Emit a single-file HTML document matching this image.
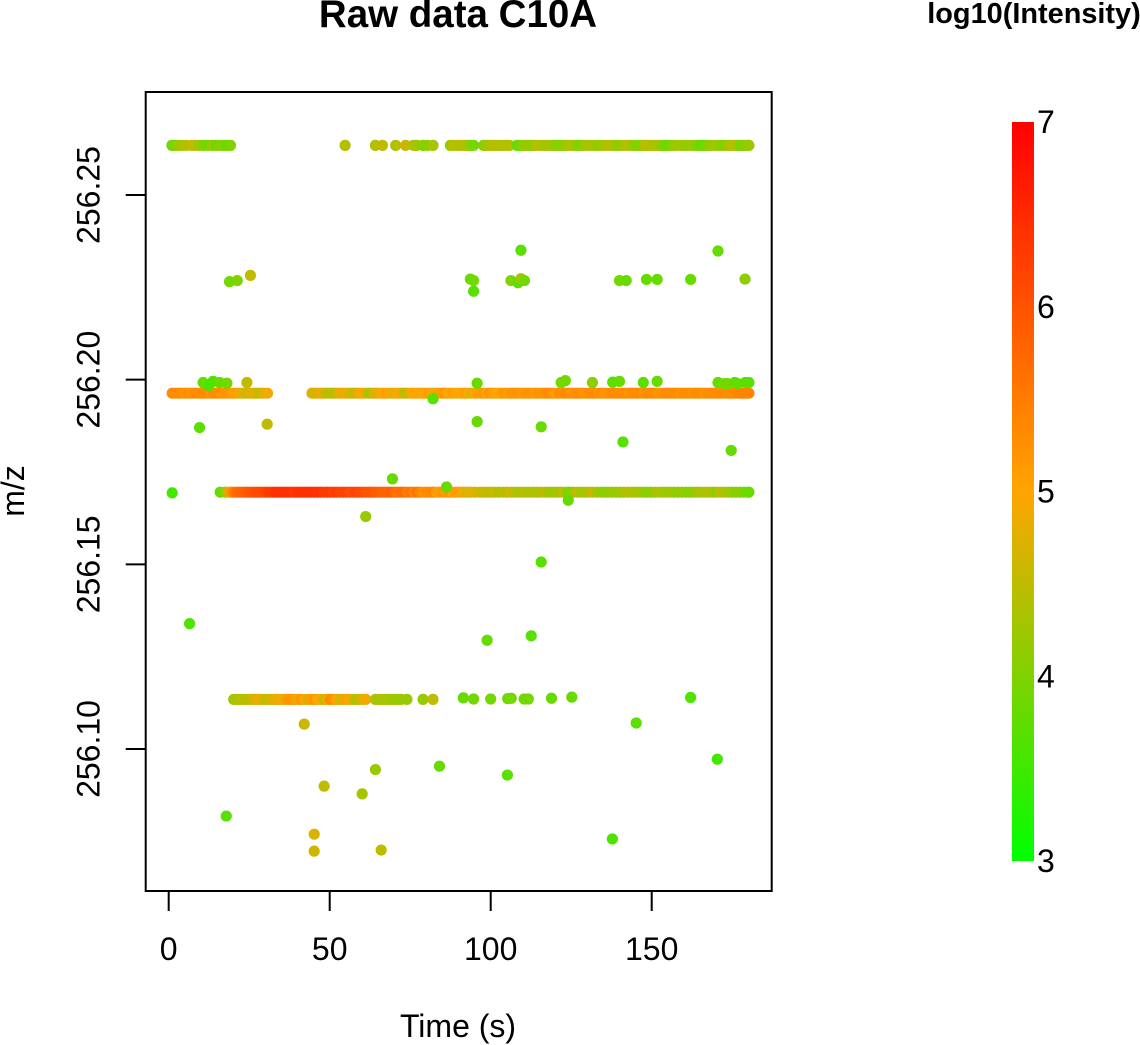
<!DOCTYPE html>
<html lang="en">
<head>
<meta charset="utf-8">
<title>Raw data C10A</title>
<style>
html,body{margin:0;padding:0;background:#fff}
svg{display:block;font-family:"Liberation Sans",sans-serif}
</style>
</head>
<body>
<svg id="chart" xmlns="http://www.w3.org/2000/svg" width="1140" height="1045" viewBox="0 0 1140 1045">
<defs>
<linearGradient id="ramp" x1="0" y1="1" x2="0" y2="0">
<stop offset="0" stop-color="#00ff00"/>
<stop offset="0.5" stop-color="#ffa500"/>
<stop offset="1" stop-color="#ff0000"/>
</linearGradient>
</defs>
<rect width="1140" height="1045" fill="#fff"/>
<g id="points" transform="translate(0.6,0.6)"></g>
<rect x="145.7" y="92" width="626" height="799" fill="none" stroke="#000" stroke-width="2"/>
<g id="xaxis"></g>
<g id="yaxis"></g>
<text x="458" y="27" font-size="38.5" font-weight="bold" text-anchor="middle">Raw data C10A</text>
<text x="458" y="1037" font-size="32" text-anchor="middle">Time (s)</text>
<text transform="translate(24,491) rotate(-90)" font-size="32" text-anchor="middle">m/z</text>
<text x="1034" y="23" font-size="28.9" font-weight="bold" text-anchor="middle">log10(Intensity)</text>
<rect x="1012" y="122" width="22" height="739" fill="url(#ramp)"/>
<g id="cbticks"></g>
</svg>
<script>
const xTickValues = [0, 50, 100, 150];
const yTickValues = [256.10, 256.15, 256.20, 256.25];
const colorbarValues = [3, 4, 5, 6, 7];

const topBandMz = 256.2636;
const topBandTimes = [
  0.8,1.9,2.9,3.9,5.3,7,8,9.4,10.6,12,
  13.3,14.6,15.6,16.8,18,19,54.6,64,66.2,70.3,
  73.4,75.9,76.8,78.8,80.2,81.9,
  87.3,88.2,89.1,90.1,91,91.9,92.8,93.6,94.5,97.6,
  98.5,99.4,100.3,101.2,102.1,103,103.9,104.8,105.6,108,
  108.9,109.8,110.7,111.6,112.6,113.5,114.4,115.4,116.4,117.3,
  118.3,119.2,120.2,121.1,122,122.9,123.8,124.7,125.6,126.6,
  127.6,128.5,129.4,130.3,131.3,132.3,133.3,134.2,135.2,136.2,
  137.1,138.1,139,140.1,141.1,142.1,143.1,144.2,145.2,146.1,
  147,147.8,148.6,149.4,150.3,151.2,152.1,153,153.9,154.7,
  155.6,156.4,157.5,158.7,159.7,160.8,161.9,162.9,163.7,164.8,
  165.7,166.5,167.5,168.5,169.6,170.6,171.6,172.7,173.7,174.6,
  175.5,176.4,177.3,178.1,178.9,179.5,180
];
const topBandLogs = [
  3.9,3.9,4.2,4.3,4.4,4.5,4.5,4.2,4.0,3.9,
  4.2,3.8,4.1,4.0,3.8,4.0,4.4,4.4,4.5,4.4,
  4.6,4.3,4.3,4.0,4.1,4.3,
  4.1,4.4,4.5,4.3,4.5,4.4,4.3,4.1,3.9,4.0,
  4.2,4.3,4.5,4.4,4.4,4.4,4.4,4.4,4.4,3.8,
  3.9,4.0,4.2,4.2,4.1,4.2,4.5,4.4,4.3,4.2,
  4.4,4.2,4.1,4.0,4.1,4.1,4.2,4.4,4.4,4.1,
  3.9,4.1,4.3,4.3,4.3,4.3,4.0,4.2,4.3,4.4,
  4.4,4.4,4.2,4.1,4.2,4.4,4.4,4.1,4.0,4.0,
  4.1,4.4,4.5,4.4,4.3,4.4,4.3,4.1,4.0,3.8,
  3.9,4.1,4.2,4.3,4.2,4.1,4.2,4.2,4.1,3.8,
  3.8,3.9,4.1,4.2,4.2,4.2,4.1,4.0,4.2,4.4,
  4.5,4.3,3.9,4.0,4.0,4.1,4.2
];

const mainBandMz = 256.1965;
const mainBandTimes = [
  0.9,1.9,2.9,3.9,4.9,5.9,6.9,7.9,8.9,9.9,
  10.9,11.9,12.9,13.9,14.9,15.9,16.9,17.9,18.9,19.9,
  20.9,21.9,22.9,23.9,24.9,25.8,26.7,27.2,28.2,29.3,
  30.5,44.3,45.2,46.1,47,47.9,48.8,49.8,50.6,51.5,
  52.5,53.4,54.4,55.3,56.2,57.1,58.1,59,60,60.9,
  61.9,62.8,63.7,64.7,65.6,66.6,67.5,68.4,69.4,70.3,
  71.3,72.2,73.1,74.1,75,76,76.9,77.8,78.8,79.7,
  80.7,81.6,82.5,83.5,84.4,85.4,86.3,87.2,88.2,89.1,
  90.1,91,92,92.9,93.8,94.8,95.7,96.7,97.6,98.5,
  99.5,100.4,101.4,102.3,103.2,104.2,105.1,106.1,107,108,
  108.9,109.8,110.8,111.7,112.7,113.6,114.5,115.5,116.4,117.4,
  118.3,119.2,120.2,121.1,122.1,123,124,124.9,125.8,126.8,
  127.7,128.7,129.6,130.5,131.5,132.4,133.4,134.3,135.3,136.2,
  137.1,138.1,139,140,140.9,141.8,142.8,143.7,144.7,145.6,
  146.6,147.5,148.4,149.4,150.3,151.3,152.2,153.1,154.1,155,
  156,156.9,157.9,158.8,159.7,160.7,161.6,162.6,163.5,164.4,
  165.4,166.3,167.3,168.2,169.2,170.1,171,172,172.9,173.9,
  174.8,175.7,176.7,177.6,178.6,179.5,180
];
const mainBandLogs = [
  5.3,5.3,5.3,5.3,5.2,5.3,5.2,5.3,5.3,5.3,
  5.3,5.3,5.2,5.3,5.3,5.2,5.2,5.2,5.2,5.1,
  5.1,4.9,4.8,4.6,4.7,4.8,4.8,4.7,4.5,4.8,
  4.9,4.8,4.6,4.7,4.9,4.8,4.5,4.5,4.5,4.4,
  4.7,4.9,4.8,4.9,4.7,4.5,4.6,4.9,5.0,4.9,
  4.4,4.3,4.8,4.7,4.9,5.0,5.1,5.0,4.7,4.9,
  5.0,4.8,4.5,4.5,4.9,5.0,5.0,4.9,5.0,5.0,
  5.1,5.0,4.8,5.1,5.1,5.2,5.0,5.0,5.1,4.9,
  5.0,5.0,5.1,5.0,4.7,5.0,5.1,5.1,5.2,5.0,
  5.2,5.1,5.0,5.0,5.1,5.2,5.1,5.2,5.2,5.2,
  5.2,5.1,5.2,5.2,5.2,5.1,5.2,5.2,5.2,5.3,
  5.3,5.2,5.1,5.3,5.2,5.3,5.3,5.2,5.2,5.3,
  5.3,5.2,5.2,5.3,5.3,5.3,5.2,5.3,5.2,5.2,
  5.3,5.3,5.3,5.3,5.3,5.3,5.2,5.3,5.3,5.3,
  5.3,5.2,5.3,5.3,5.3,5.3,5.2,5.2,5.3,5.3,
  5.3,5.3,5.3,5.2,5.3,5.3,5.3,5.2,5.3,5.3,
  5.3,5.2,5.3,5.3,5.3,5.3,5.3,5.3,5.3,5.3,
  5.3,5.3,5.4,5.4,5.4,5.4,5.4
];

const lockBandMz = 256.1697;
const lockBandTimes = [
  15.8,17.4,18.4,19.2,20,21,22,23,24,25,
  26,27,28,29,30,31,32,33,34,35,
  36,37,38,39,40,41,42,43,44,45,
  46,47,48,49,50,51,52,53,54,55,
  56,57,58,59,60,61,62,63,64,65,
  66,67,68,69,70,71,72,73,74,75,
  76,77,78,79,80,81,82,83,84,85,
  86,87,88,89,90,91,92,93,94,95,
  96.5,97.6,98.9,100,101.2,102.3,103.6,104.8,106,107,
  108.2,109.4,110.6,111.8,113,114.2,115.4,116.6,117.8,119,
  120.2,121.4,122.4,123.6,124.3,125.5,126.8,128,129.2,130.4,
  131.5,132.8,134,135.2,136.3,137.6,138.8,140,141.2,142.4,
  143.6,144.8,146,147.2,148.4,149.6,150.8,152,153.2,154.4,
  155.6,156.8,158,159.2,160.4,161.6,162.8,164,165.2,166.4,
  167.6,168.8,170,171.2,172.4,173.6,174.8,176,177.2,178.4,
  179.6,180
];
const lockBandLogs = [
  3.8,4.1,4.7,5.2,5.5,5.7,5.8,5.8,5.9,6.0,
  6.0,6.1,6.1,6.1,6.2,6.3,6.3,6.4,6.4,6.4,
  6.4,6.4,6.4,6.3,6.4,6.4,6.4,6.4,6.4,6.4,
  6.4,6.4,6.3,6.3,6.3,6.2,6.3,6.2,6.2,6.2,
  6.1,6.1,6.2,6.1,6.1,6.0,6.0,6.0,5.9,5.9,
  5.8,5.8,5.8,5.9,5.7,5.6,5.7,5.7,5.5,5.6,
  5.4,5.6,5.4,5.2,5.3,5.3,5.4,5.1,5.1,5.2,
  5.1,5.2,5.0,5.1,5.1,4.9,4.8,4.7,4.8,4.7,
  4.6,4.6,4.5,4.5,4.6,4.4,4.5,4.4,4.7,4.5,
  4.4,4.3,4.5,4.3,4.4,4.3,4.4,4.5,4.3,4.2,
  4.3,4.2,4.6,4.0,4.0,4.1,4.6,4.2,4.3,4.4,
  4.6,4.3,4.2,4.1,4.1,4.2,4.2,4.2,4.3,4.4,
  4.4,4.3,4.3,4.2,4.1,4.1,4.2,4.4,4.3,4.2,
  4.3,4.2,4.1,4.2,4.1,4.0,4.1,4.2,4.4,4.3,
  4.4,4.3,4.1,4.5,4.4,4.2,4.2,4.0,4.1,4.0,
  3.9,3.8
];

const lowBandMz = 256.1136;
const lowBandTimes = [
  20,21,22,23,24,25,26,27,28,29,
  30,31,32,33,34,35,36,37,38,39,
  40,41,42,43,44,45,46,47,48,49,
  50,51,52,53,54,55,56,57,58,59,
  60,61,64,65,66,67,68,69,70,71,
  72,73.8,78.8,81.9
];
const lowBandLogs = [
  4.3,4.3,4.4,4.5,4.4,4.5,4.6,4.7,4.9,4.7,
  4.5,4.6,4.7,4.8,4.8,5.0,4.8,5.2,5.2,5.1,
  4.8,5.2,5.0,4.7,5.1,5.2,4.9,5.0,4.6,4.8,
  5.3,5.2,5.0,4.7,4.7,5.1,5.0,4.7,4.4,4.5,
  4.7,4.9,4.4,4.3,4.3,4.3,4.3,4.3,4.2,4.2,
  4.2,4.2,4.2,4.5
];

const strayTimes = [
  18.7,21.1,25.2,93.5,94.5,94.5,106.1,108.3,109.2,110.3,
  109.2,139.8,141.9,148.2,151.5,161.9,170.4,178.8,10.5,12.2,
  13.6,15.6,17.9,24.1,81.9,9.4,30.4,95.6,121.7,123,
  131.4,137.7,139.8,147.2,151.5,170.4,172.4,173.4,175.6,176.5,
  178.9,180,95.6,115.5,140.9,174.5,0.9,69.3,86.1,61,
  6.3,41.9,123.9,115.5,98.7,112.4,91.3,94.5,99.8,105.1,
  106.2,110.2,111.5,118.7,125,161.9,145,170.2,83.9,64,
  105,48.1,59.9,17.7,45,45,65.8,137.6
];
const strayMz = [
  256.2267,256.2270,256.2284,256.2274,256.2270,256.2241,256.2270,256.2264,256.2275,256.2270,
  256.2352,256.2270,256.2270,256.2273,256.2273,256.2273,256.2350,256.2274,256.1994,256.1986,
  256.1997,256.1994,256.1992,256.1994,256.1950,256.1872,256.1881,256.1992,256.1994,256.1999,
  256.1994,256.1995,256.1997,256.1994,256.1997,256.1994,256.1991,256.1991,256.1994,256.1991,
  256.1994,256.1994,256.1888,256.1874,256.1833,256.1810,256.1695,256.1733,256.1711,256.1631,
  256.1341,256.1069,256.1675,256.1508,256.1296,256.1308,256.1140,256.1137,256.1137,256.1138,
  256.1139,256.1137,256.1137,256.1139,256.1142,256.1141,256.1072,256.0974,256.0955,256.0946,
  256.0931,256.0901,256.0880,256.0820,256.0771,256.0725,256.0728,256.0758
];
const strayLogs = [
  3.9,4.0,4.5,3.8,3.9,3.7,4.0,3.7,4.3,3.9,
  3.7,3.9,3.8,3.8,3.8,3.8,3.8,4.1,3.8,3.6,
  3.6,3.8,3.9,4.5,3.7,3.7,4.5,3.8,3.9,3.9,
  4.1,3.7,3.8,3.7,3.8,3.8,3.9,3.9,3.7,3.8,
  3.7,3.7,3.8,3.8,3.7,3.8,3.5,3.8,3.8,4.2,
  3.6,4.6,3.8,3.7,3.8,3.7,3.8,3.9,3.9,3.9,
  3.9,3.9,3.9,3.8,3.8,3.6,3.7,3.5,3.8,4.2,
  3.7,4.5,4.3,3.7,4.7,4.6,4.5,3.6
];

const svgNS = 'http://www.w3.org/2000/svg';
const xScale = t => 168.7 + t * 3.22;
const yScale = mz => 195 + (256.25 - mz) * 3693.3;
const colorbarScale = v => 861 - (v - 3) * 184.75;

function logColor(v) {
  let r, g;
  if (v <= 5) {
    const f = Math.max(0, (v - 3) / 2);
    r = 255 * f;
    g = 255 - 90 * f;
  } else {
    const f = Math.min(1, (v - 5) / 2);
    r = 255;
    g = 165 * (1 - f);
  }
  return 'rgb(' + Math.round(r) + ',' + Math.round(g) + ',0)';
}

const pointsLayer = document.getElementById('points');
function addPoint(t, mz, logValue, name) {
  const c = document.createElementNS(svgNS, 'circle');
  
  
  c.setAttribute('cx', xScale(t).toFixed(2));
  c.setAttribute('cy', yScale(mz).toFixed(2));
  c.setAttribute('r', '5.6');
  c.setAttribute('fill', logColor(logValue));
  pointsLayer.appendChild(c);
}

topBandTimes.forEach((t, i) => addPoint(t, topBandMz, topBandLogs[i], 'point-top-band'));
mainBandTimes.forEach((t, i) => addPoint(t, mainBandMz, mainBandLogs[i], 'point-main-band'));
lockBandTimes.forEach((t, i) => addPoint(t, lockBandMz, lockBandLogs[i], 'point-mid-band'));
lowBandTimes.forEach((t, i) => addPoint(t, lowBandMz, lowBandLogs[i], 'point-low-band'));
strayTimes.forEach((t, i) => addPoint(t, strayMz[i], strayLogs[i], 'point-stray'));

function addLine(parent, x1, y1, x2, y2, name) {
  const l = document.createElementNS(svgNS, 'line');
  
  
  l.setAttribute('x1', x1);
  l.setAttribute('y1', y1);
  l.setAttribute('x2', x2);
  l.setAttribute('y2', y2);
  l.setAttribute('stroke', '#000');
  l.setAttribute('stroke-width', '2');
  parent.appendChild(l);
}

const xAxisGroup = document.getElementById('xaxis');
xTickValues.forEach(v => {
  const x = xScale(v);
  addLine(xAxisGroup, x, 891, x, 911, 'x-tick');
  const label = document.createElementNS(svgNS, 'text');
  
  
  label.setAttribute('x', x);
  label.setAttribute('y', 960);
  label.setAttribute('font-size', '32');
  label.setAttribute('text-anchor', 'middle');
  label.textContent = String(v);
  xAxisGroup.appendChild(label);
});

const yAxisGroup = document.getElementById('yaxis');
yTickValues.forEach(v => {
  const y = yScale(v);
  addLine(yAxisGroup, 145.7, y, 125.7, y, 'y-tick');
  const label = document.createElementNS(svgNS, 'text');
  
  
  label.setAttribute('transform', 'translate(99.5,' + y + ') rotate(-90)');
  label.setAttribute('font-size', '32');
  label.setAttribute('text-anchor', 'middle');
  label.textContent = v.toFixed(2);
  yAxisGroup.appendChild(label);
});

const colorbarGroup = document.getElementById('cbticks');
colorbarValues.forEach(v => {
  const label = document.createElementNS(svgNS, 'text');
  
  
  label.setAttribute('x', 1037);
  label.setAttribute('y', colorbarScale(v) + 11);
  label.setAttribute('font-size', '32');
  label.textContent = String(v);
  colorbarGroup.appendChild(label);
});
</script>
</body>
</html>
